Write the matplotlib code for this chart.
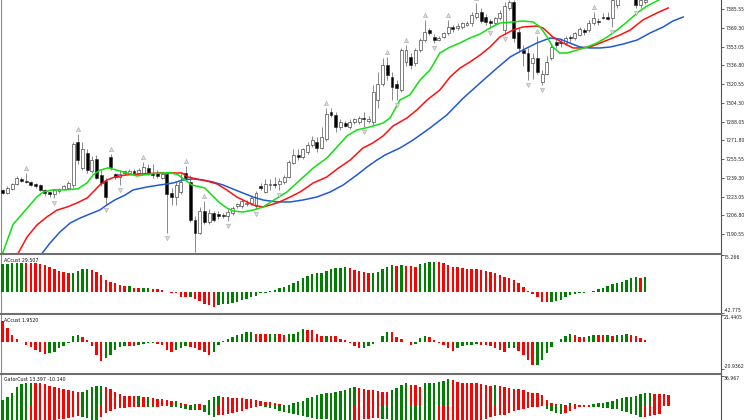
import numpy as np
import matplotlib
matplotlib.use("Agg")
import matplotlib.pyplot as plt
from matplotlib.transforms import offset_copy, blended_transform_factory

# ---------------- price bars ----------------
opens = [7229, 7226, 7230, 7234, 7238, 7237, 7236, 7234, 7233, 7229,
         7227, 7225, 7228, 7230, 7231, 7233, 7270, 7248, 7261, 7245,
         7256, 7242, 7237, 7257, 7243, 7240, 7244, 7244, 7245, 7244,
         7244, 7248, 7244, 7244, 7239, 7243, 7226, 7223, 7227, 7244,
         7236, 7203, 7192, 7211, 7201, 7209, 7208, 7207, 7206, 7209,
         7215, 7215, 7217, 7218, 7215, 7232, 7227, 7233, 7234, 7234,
         7236, 7240, 7252, 7259, 7257, 7262, 7268, 7270, 7265, 7273,
         7296, 7294, 7283, 7287, 7283, 7288, 7288, 7291, 7289, 7288,
         7307, 7321, 7337, 7327, 7321, 7315, 7340, 7344, 7339, 7350,
         7359, 7367, 7361, 7359, 7361, 7365, 7370, 7369, 7370, 7372,
         7373, 7379, 7383, 7379, 7375, 7373, 7378, 7367, 7386, 7392,
         7366, 7350, 7347, 7339, 7343, 7322, 7329, 7343, 7357, 7357,
         7356, 7361, 7360, 7363, 7367, 7367, 7373, 7375, 7379, 7379,
         7378, 7389, 7397, 7402, 7397, 7396, 7389, 7392]
highs = [7230, 7232, 7235, 7241, 7240, 7244, 7237, 7235, 7234, 7230,
         7228, 7230, 7231, 7233, 7237, 7270, 7277, 7270, 7264, 7258,
         7259, 7246, 7239, 7260, 7244, 7246, 7246, 7247, 7247, 7248,
         7253, 7251, 7251, 7246, 7244, 7244, 7231, 7236, 7244, 7250,
         7242, 7206, 7214, 7219, 7212, 7211, 7211, 7209, 7212, 7215,
         7218, 7221, 7220, 7224, 7228, 7235, 7238, 7238, 7240, 7239,
         7242, 7255, 7264, 7264, 7265, 7270, 7276, 7275, 7283, 7300,
         7300, 7296, 7290, 7289, 7290, 7291, 7293, 7296, 7293, 7320,
         7331, 7343, 7344, 7331, 7324, 7352, 7354, 7347, 7352, 7360,
         7376, 7369, 7364, 7362, 7366, 7376, 7372, 7373, 7374, 7375,
         7383, 7391, 7386, 7381, 7377, 7379, 7385, 7392, 7393, 7393,
         7369, 7354, 7352, 7347, 7362, 7333, 7345, 7355, 7360, 7360,
         7362, 7363, 7366, 7370, 7369, 7376, 7383, 7378, 7382, 7383,
         7395, 7400, 7405, 7405, 7404, 7400, 7396, 7394]
lows = [7225, 7225, 7229, 7233, 7236, 7235, 7232, 7231, 7228, 7224,
        7223, 7222, 7226, 7229, 7230, 7231, 7251, 7246, 7244, 7244,
        7238, 7232, 7216, 7246, 7238, 7233, 7242, 7243, 7243, 7243,
        7243, 7242, 7239, 7239, 7238, 7192, 7216, 7216, 7225, 7238,
        7201, 7175, 7191, 7199, 7199, 7201, 7204, 7205, 7202, 7207,
        7213, 7213, 7215, 7216, 7212, 7229, 7226, 7229, 7231, 7229,
        7234, 7239, 7251, 7255, 7256, 7260, 7266, 7262, 7264, 7271,
        7292, 7279, 7281, 7283, 7282, 7286, 7286, 7283, 7287, 7285,
        7300, 7319, 7324, 7307, 7307, 7314, 7336, 7334, 7336, 7348,
        7357, 7363, 7356, 7358, 7360, 7363, 7366, 7367, 7368, 7371,
        7371, 7377, 7373, 7372, 7369, 7372, 7376, 7364, 7385, 7357,
        7348, 7336, 7324, 7325, 7329, 7320, 7328, 7341, 7352, 7353,
        7354, 7357, 7359, 7362, 7363, 7366, 7372, 7372, 7377, 7376,
        7370, 7386, 7395, 7395, 7394, 7386, 7386, 7390]
closes = [7226, 7231, 7234, 7239, 7237, 7236, 7233, 7232, 7229, 7226,
          7225, 7229, 7230, 7232, 7235, 7269, 7255, 7264, 7246, 7255,
          7239, 7235, 7223, 7249, 7240, 7243, 7245, 7245, 7244, 7246,
          7249, 7244, 7242, 7241, 7243, 7225, 7223, 7233, 7236, 7239,
          7203, 7192, 7211, 7201, 7209, 7203, 7206, 7206, 7210, 7213,
          7217, 7219, 7218, 7222, 7226, 7231, 7234, 7234, 7233, 7237,
          7240, 7253, 7259, 7257, 7264, 7268, 7272, 7265, 7275, 7295,
          7294, 7283, 7288, 7284, 7288, 7290, 7291, 7290, 7290, 7314,
          7321, 7337, 7328, 7318, 7317, 7350, 7350, 7337, 7350, 7359,
          7366, 7365, 7359, 7360, 7365, 7370, 7368, 7371, 7373, 7373,
          7380, 7382, 7375, 7374, 7373, 7378, 7382, 7388, 7392, 7360,
          7352, 7347, 7332, 7343, 7331, 7329, 7340, 7353, 7354, 7356,
          7360, 7360, 7365, 7368, 7366, 7373, 7378, 7374, 7378, 7377,
          7393, 7398, 7402, 7397, 7400, 7389, 7393, 7393]

fractal_up = [5, 16, 23, 30, 39, 43, 69, 82, 86, 90, 95, 101, 114, 126]
fractal_down = [11, 22, 25, 35, 41, 48, 54, 59, 77, 84, 92, 104, 107, 112,
                115, 130, 135]

# Alligator lines (bar position, price)
lips_x = [-0.2, 2.2, 5.2, 7.3, 8.6, 10.7, 13.7, 16.1, 18.0, 19.3, 20.7, 22.5,
          24.4, 26.1, 28.6, 32.0, 35.7, 37.4, 38.9, 40.4, 41.6, 43.1, 44.6,
          46.3, 47.8, 49.1, 51.2, 53.4, 55.5, 58.5, 60.6, 63.4, 66.2, 69.1,
          71.3, 73.4, 75.5, 78.3, 81.1, 82.6, 84.7, 86.8, 89.0, 91.1, 93.2,
          95.4, 97.5, 99.6, 101.8, 103.9, 106.0, 108.8, 110.9, 113.1, 114.6,
          116.1, 117.3, 118.8, 120.3, 122.5, 124.6, 126.7, 128.9, 131.0,
          133.1, 135.3, 137.4, 139.9]
lips_y = [7172, 7199, 7213, 7223, 7227, 7229, 7229, 7230, 7235, 7242, 7246,
          7248, 7246, 7244, 7241, 7243, 7244, 7242, 7237.5, 7233, 7232,
          7230.6, 7224.5, 7217.6, 7213.3, 7210.7, 7209.8, 7211.5, 7214.1,
          7221.9, 7227.1, 7237.5, 7247.9, 7256.5, 7266.1, 7275.6, 7280.8,
          7283.4, 7286.8, 7291.2, 7306.8, 7311.1, 7324.1, 7332.7, 7347.4,
          7352.6, 7356.1, 7360.4, 7363.9, 7369.1, 7373.4, 7374.3, 7375.1,
          7374.3, 7369.9, 7361.3, 7352.6, 7347.4, 7347.4, 7350.0, 7352.6,
          7356.1, 7361.3, 7367.3, 7374.3, 7382.1, 7388.1, 7393.3]
teeth_x = [3.0, 5.2, 7.3, 9.4, 11.6, 13.7, 15.8, 18.0, 19.7, 20.7, 22.2, 23.9,
           26.1, 29.3, 33.5, 38.2, 39.5, 41.4, 43.6, 45.7, 47.8, 49.9, 52.1,
           53.4, 55.5, 58.5, 61.3, 63.4, 66.2, 69.1, 71.3, 74.1, 76.8, 78.9,
           81.1, 83.2, 86.2, 88.3, 90.5, 93.2, 95.4, 97.5, 99.6, 101.8,
           103.9, 106.0, 108.8, 110.9, 113.9, 115.2, 117.3, 119.5, 121.6,
           123.1, 125.2, 127.4, 129.5, 131.6, 133.8, 136.5, 139.5, 141.9]
teeth_y = [7172, 7188.2, 7198.6, 7205.5, 7211.5, 7214.1, 7217.6, 7221.9,
           7228.9, 7233.2, 7237.5, 7240.1, 7241.8, 7242.7, 7243.6, 7243.6,
           7240.1, 7238.4, 7236.6, 7234.1, 7228.9, 7222.8, 7218.5, 7215.9,
           7214.1, 7217.6, 7222.8, 7227.1, 7234.9, 7240.1, 7247.0, 7254.8,
           7265.2, 7269.5, 7275.6, 7284.2, 7291.2, 7298.1, 7306.8, 7315.4,
           7326.7, 7334.4, 7339.6, 7345.7, 7352.6, 7361.3, 7367.3, 7369.9,
           7370.8, 7369.1, 7361.3, 7356.1, 7351.8, 7351.8, 7352.6, 7356.1,
           7359.5, 7363.0, 7367.3, 7376.0, 7382.1, 7386.4]
jaw_x = [8.0, 10.1, 12.2, 14.4, 16.5, 18.6, 20.7, 22.2, 23.9, 26.1, 27.8,
         30.8, 33.5, 36.3, 38.4, 40.6, 42.7, 44.8, 47.0, 49.1, 51.2, 53.4,
         55.5, 58.5, 61.3, 64.0, 67.0, 69.8, 72.6, 75.5, 77.7, 79.8, 81.5,
         84.7, 87.5, 91.1, 94.7, 98.1, 101.8, 105.4, 108.2, 110.9, 113.9,
         116.7, 118.8, 120.9, 123.1, 125.2, 127.4, 129.5, 132.3, 135.3,
         138.0, 140.8, 142.9, 145.1]
jaw_y = [7172, 7183.0, 7192.5, 7200.3, 7204.6, 7208.1, 7211.5, 7215.9,
         7220.2, 7224.5, 7228.9, 7231.5, 7233.2, 7234.9, 7237.5, 7238.4,
         7237.5, 7235.8, 7233.2, 7229.7, 7226.3, 7222.8, 7220.2, 7218.5,
         7218.5, 7220.2, 7222.8, 7227.1, 7233.2, 7241.8, 7248.8, 7254.8,
         7259.1, 7265.2, 7272.1, 7282.5, 7293.8, 7308.0, 7321.5, 7334.4,
         7344.0, 7350.0, 7356.1, 7360.4, 7359.5, 7356.1, 7352.6, 7351.8,
         7351.8, 7352.6, 7355.2, 7358.7, 7364.7, 7369.9, 7375.1, 7378.6]

price_ticks = [7385.55, 7369.30, 7353.05, 7336.80, 7320.55, 7304.30, 7288.05,
               7271.80, 7255.55, 7239.30, 7223.05, 7206.80, 7190.55]

# ---------------- oscillators ----------------
ao_vals = [56, 57, 58, 58.5, 59, 58.7, 58.5, 58, 56.6, 54.6,
           51, 46, 42, 39.5, 38, 39, 43, 45.7, 46, 44.3,
           41, 34, 24, 20.5, 17, 13.6, 11.6, 11.8, 8.2, 6.8,
           7, 7.2, 5.5, 4.8, 2.7, 0.5, -2, -3.4, -10, -10.5,
           -10, -15.7, -19, -24, -27, -32, -27, -25, -24, -22.5,
           -20.5, -17, -15.7, -10, -9, -3.4, -2, 1.4, 3.4, 6.8,
           10.2, 13, 17, 22.5, 27.3, 32, 35.5, 37.5, 39, 41.6,
           45.7, 47.7, 48.4, 49.8, 47.7, 44.3, 42, 39.6, 37.5, 37.6,
           41, 45.7, 51, 53.9, 53.2, 53.9, 53.2, 52, 51, 56.6,
           59.3, 60, 60.7, 60, 58, 54.6, 51, 49.8, 47.7, 47.5,
           46.4, 45.7, 45.5, 43, 41, 37.5, 34, 29.3, 27.3, 25,
           19, 10.2, 2, -5.5, -10.2, -20.5, -20.6, -20, -18.4, -17,
           -11.6, -6.8, -4.8, -3.4, -2, 0.3, 2, 4.8, 8.2, 11.6,
           15, 18.4, 20.5, 23.9, 27.3, 29.3, 29, 29.507]
ao_cols = ("gggggrrrrr rrrrrggggr rrrrrrrgrr ggrrrrrrrr grrrrrgggg "
           "gggggggggg gggggggggg ggggrrrrrg ggggrgrrrg gggrrrrrrr "
           "rrrrrrrrrr rrrrrrrggg gggggggggg ggggggrg")

ac_vals = [16.6, 11.4, 6.2, 2.9, 0.3, -1.8, -3.6, -5.7, -7.3, -8.8,
           -8.6, -7.5, -4.7, -2.6, -0.3, 4.9, 5.7, 4.4, 1.8, -3.1,
           -9.4, -14.6, -12, -9.4, -6, -3.9, -2.6, -3.1, -2.5, -1.8,
           -1.3, -0.8, -0.4, -1.0, -2.0, -5.5, -7.5, -6, -4.5, -3,
           -3.5, -4.5, -6, -7.5, -9.9, -7.3, -1.6, 1.0, 3.1, 4.4,
           6.2, 6.3, 7.8, 8.3, 7.0, 6.9, 6.5, 6.6, 6.8, 6.4,
           6.0, 6.3, 7.0, 8.3, 10.9, 9.9, 9.8, 7.0, 5.2, 5.4,
           5.2, 4.7, 3.1, 1.8, -0.3, -2.6, -4.2, -4.0, -2.6, -1.3,
           0.5, 5.2, 8.3, 8.0, 4.4, 2.6, 0.5, -2.1, -1.3, 3.6,
           5.2, 4.4, 1.8, -0.1, -2.1, -4.7, -6.5, -4.7, -2.6, -2.0,
           -1.6, -1.3, -2.1, -2.2, -2.9, -4.7, -6.0, -7.3, -4.7, -4.5,
           -6.8, -9.9, -13.8, -17.7, -17.2, -13.8, -8.6, -3.4, 0.5, 2.6,
           5.2, 7.0, 6.2, 4.4, 4.3, 5.2, 5.8, 5.6, 5.5, 6.2,
           5.2, 5.8, 6.2, 6.8, 6.2, 5.2, 3.6, 1.952]
ac_cols = ("rrrrrrrrrr gggggggrrr rrgggggrrg gggrrrrggg rrrrrggggg "
           "ggggrrrggr rggggrrrrg rrrrrrrggg gggrrrrrgg grrrrrrggg "
           "ggrrrrrrgg rrrrgggggg ggrrrggrrg rgggrrrr")

gator_up = [7.1, 11.2, 15.4, 22.8, 27.0, 28.0, 28.6, 28.4, 28.0, 27.0,
            25.0, 23.7, 22.0, 20.3, 19.5, 18.7, 17.4, 17.6, 20.0, 23.7,
            24.5, 24.6, 22.8, 20.3, 17.4, 14.1, 12.5, 12.0, 11.8, 12.3,
            11.2, 11.4, 9.1, 8.3, 7.9, 7.1, 6.2, 6.4, 3.7, 2.1,
            0.8, 2.1, 1.7, 0.8, 7.1, 11.2, 12.0, 11.2, 10.4, 10.2,
            9.1, 9.0, 8.7, 8.5, 7.1, 5.8, 5.0, 4.2, 3.3, 2.1,
            1.0, 1.2, 2.9, 4.2, 6.2, 9.1, 11.2, 13.3, 14.5, 15.4,
            16.2, 17.4, 18.7, 19.5, 21.6, 23.7, 22.4, 20.3, 19.5, 19.4,
            18.7, 17.4, 17.3, 19.5, 21.6, 25.7, 27.8, 25.7, 25.5, 23.7,
            27.8, 28.6, 28.7, 29.9, 31.1, 32.8, 32.0, 29.9, 28.6, 28.5,
            27.8, 27.7, 27.0, 25.7, 24.5, 25.7, 24.0, 23.0, 22.4, 21.0,
            20.3, 19.5, 17.4, 16.2, 15.8, 13.3, 7.0, 2.9, 2.1, 2.3,
            0.8, 3.7, 2.1, 0.8, 0.4, 1.2, 2.1, 2.9, 3.7, 5.0,
            6.2, 7.9, 9.1, 10.4, 11.2, 12.0, 14.5, 15.4, 15.5, 14.5,
            14.4, 14.3, 13.397]
gator_up_cols = ("gggggggrrr rrrrrrrggg ggrrrrrrrg rgrrrrrgrr rgrrgggrrr "
                 "rrrrrrrrrr rggggggggg ggggggrrrr rrrggggrrr ggggggrrrr "
                 "rrrrrgrrrr rrrrrrrrrg rgrrrggggg gggggggggr rrr")

gator_dn = [-18, -20, -22, -24, -25, -26, -25, -24, -23, -22,
            -21, -19, -17, -16, -15, -14, -13, -13.7, -15.8, -17.8,
            -18, -13.7, -9.5, -6, -4.5, -3, -2.5, -2, -1.5, -1.2,
            -1.0, -1.2, -1.3, -1.0, -0.8, -0.5, -1.0, -1.5, -2.5, -3.5,
            -5.0, -5.5, -5.0, -8, -12, -14, -12, -11, -10, -9.5,
            -8, -6, -4.5, -3, -2, -0.8, -1, -3, -4.5, -6,
            -8, -9, -10, -11, -12.5, -14, -15, -16, -16.5, -17,
            -18, -19, -21, -23, -23.5, -21, -19, -17, -16, -15.5,
            -15, -16, -17, -18.5, -20, -20.5, -21, -23, -25, -28,
            -30, -32, -32.5, -30, -29, -27, -25, -23, -22, -21,
            -20, -19, -18, -16, -14, -12.5, -12, -11, -9, -7,
            -5.5, -4, -2.5, -1.5, -1, -0.5, -4, -7, -9, -10,
            -9, -6, -3.5, -2, -1.5, -1.4, -1.5, -2, -2.5, -3,
            -3.5, -4.5, -6, -8, -10, -12, -14, -13.8, -13, -11.5,
            -10.14]
gator_dn_cols = ("ggggggrrrr rrrrrrrggg grrrrrrrrr rggrrrgggg ggrgggrrrr "
                 "rrrrrrgggg gggggggggg gggggrrrrr rggggggggg gggrrrrrrr "
                 "rrrrrrrrrr rrrrrrgggg rrrrrrgggg gggggggrrr r")

BAR_GREEN = "#008000"
BAR_RED = "#ff0000"
cmap = {"g": BAR_GREEN, "r": BAR_RED}

# ---------------- layout (pixels of a 752x420 canvas) ----------------
W, H = 752, 420
fig = plt.figure(figsize=(W / 100, H / 100), dpi=100)
fig.patch.set_facecolor("white")

LEFT, RIGHT = 1.5, 721
X0, STEP = 2.7, 4.69          # first bar pixel, bar spacing
xlim = ((LEFT - X0) / STEP, (RIGHT - X0) / STEP)


def px_axes(top, bottom):
    return fig.add_axes([LEFT / W, 1 - bottom / H, (RIGHT - LEFT) / W,
                         (bottom - top) / H])


def style(ax, top_line):
    ax.set_xlim(*xlim)
    ax.set_xticks([])
    ax.set_facecolor("white")
    ax.spines["bottom"].set_visible(False)
    ax.spines["left"].set_color("#8c8c8c")
    ax.spines["left"].set_linewidth(0.8)
    ax.spines["right"].set_color("#505050")
    ax.spines["right"].set_linewidth(0.8)
    if top_line:
        ax.spines["top"].set_color("#6e6e6e")
        ax.spines["top"].set_linewidth(1.5)
    else:
        ax.spines["top"].set_visible(False)
    ax.yaxis.tick_right()
    ax.tick_params(axis="y", length=2.2, width=0.5, pad=1, labelsize=3.3,
                   colors="#222222")


FS = 3.4

# main chart
ax = px_axes(0, 254)
style(ax, False)
ax.set_ylim(7393.3 - 254 * 0.8655, 7393.3)
ax.set_yticks(price_ticks)
ax.set_yticklabels(["%.2f" % v for v in price_ticks])

n = len(opens)
xs = np.arange(n)
o = np.array(opens, float)
c = np.array(closes, float)
hi = np.array(highs, float)
lo = np.array(lows, float)
up = c >= o
ax.vlines(xs, lo, hi, color="#6a6a6a", linewidth=0.55, zorder=2)
body_bot = np.minimum(o, c)
body_h = np.maximum(np.abs(c - o), 0.7)
ax.bar(xs, body_h, bottom=body_bot, width=0.62,
       color=np.where(up, "white", "black"), edgecolor="#222222",
       linewidth=0.4, zorder=3)

ax.plot(jaw_x, jaw_y, color="#1f5ad6", lw=1.1, zorder=4)
ax.plot(teeth_x, teeth_y, color="#ff1010", lw=1.1, zorder=4)
ax.plot(lips_x, lips_y, color="#10e010", lw=1.1, zorder=4)

tr_up = offset_copy(ax.transData, fig=fig, y=5, units="dots")
tr_dn = offset_copy(ax.transData, fig=fig, y=-5, units="dots")
ax.plot(fractal_up, hi[fractal_up], ls="none", marker="^", ms=3.0,
        mfc="#dedede", mec="#9c9c9c", mew=0.35, transform=tr_up, zorder=5)
ax.plot(fractal_down, lo[fractal_down], ls="none", marker="v", ms=3.0,
        mfc="#dedede", mec="#9c9c9c", mew=0.35, transform=tr_dn, zorder=5)


def histo(ax, vals, cols, width=0.52):
    cols = cols.replace(" ", "")
    x = np.arange(len(vals))
    ax.bar(x, vals, width=width, color=[cmap[k] for k in cols],
           linewidth=0, zorder=3)


def side_labels(ax, top_val, top_txt, bot_val=None, bot_txt=None):
    tr = blended_transform_factory(ax.transAxes, ax.transData)
    ticks = [top_val] + ([bot_val] if bot_val is not None else [])
    ax.set_yticks(ticks)
    ax.set_yticklabels([])
    ax.text(1.004, top_val, top_txt, transform=tr, va="top", ha="left",
            fontsize=FS - 0.1, color="#222222")
    if bot_val is not None:
        ax.text(1.004, bot_val, bot_txt, transform=tr, va="bottom",
                ha="left", fontsize=FS - 0.1, color="#222222")


# AO-style panel
ax1 = px_axes(254, 314)
style(ax1, True)
ax1.set_ylim(-42.775 - 1.3 * 2.0458, 75.266 + 1.0 * 2.0458)
histo(ax1, ao_vals, ao_cols)
side_labels(ax1, 75.266, "75.266", -42.775, "-42.775")
ax1.text(0.003, 0.9, "ACcust 29.507", transform=ax1.transAxes,
         fontsize=FS, va="center", ha="left", color="#111111")

# AC-style panel
ax2 = px_axes(314, 374)
style(ax2, True)
ax2.set_ylim(-20.9362 - 4.7 * 0.7804, 21.4405 + 1.0 * 0.7804)
histo(ax2, ac_vals, ac_cols)
side_labels(ax2, 21.4405, "21.4405", -20.9362, "-20.9362")
ax2.text(0.003, 0.9, "ACcust 1.9520", transform=ax2.transAxes,
         fontsize=FS, va="center", ha="left", color="#111111")

# Gator panel (cut off by the bottom of the picture)
ax3 = px_axes(374, 420)
style(ax3, True)
ax3.set_ylim(-14.3 * 1.2447, 36.967 + 2.0 * 1.2447)
histo(ax3, gator_up, gator_up_cols)
histo(ax3, gator_dn, gator_dn_cols)
side_labels(ax3, 36.967, "36.967")
ax3.text(0.003, 0.88, "GatorCust 13.397 -10.140", transform=ax3.transAxes,
         fontsize=FS, va="center", ha="left", color="#111111")

fig.savefig("out.png", dpi=100, facecolor="white")
